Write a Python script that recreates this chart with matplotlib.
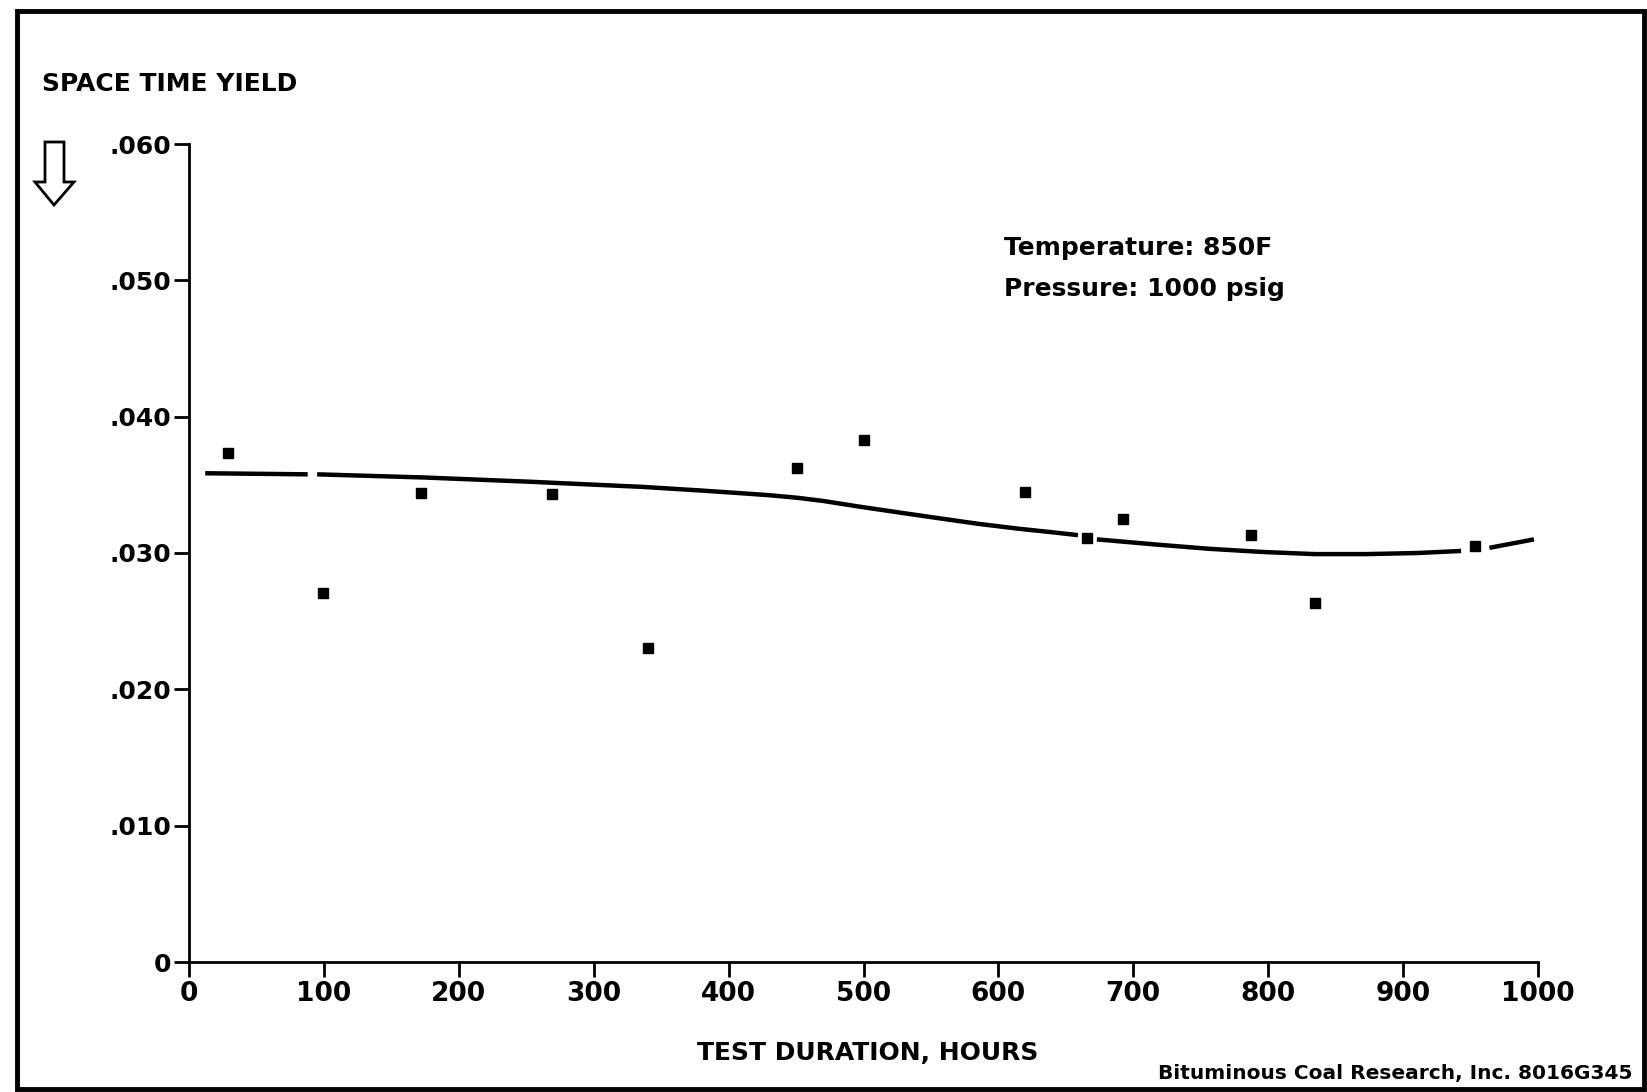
import matplotlib
matplotlib.use('Agg')
import matplotlib.pyplot as plt
from matplotlib.patches import Polygon, Rectangle

# Measured data points (test duration, hours ; space time yield)
hours = [29, 99, 172, 269, 340, 451, 500, 620, 666, 692, 787, 835, 953]
yield_ = [0.0373, 0.0271, 0.0344, 0.0343, 0.0230, 0.0362, 0.0383,
          0.0345, 0.0311, 0.0325, 0.0313, 0.0263, 0.0305]

# Smoothed curve; broken where it passes a point
curve_x = [
    [12, 88],
    [95, 174, 252, 336, 380, 407, 430, 451, 470, 497, 530, 558, 585, 615,
     640, 659],
    [673, 717, 756, 795, 834, 873, 911, 943],
    [964, 997],
]
curve_y = [
    [0.03585, 0.03577],
    [0.03577, 0.03554, 0.03523, 0.03485, 0.03458, 0.03440, 0.03424,
     0.03405, 0.03382, 0.03340, 0.03292, 0.03252, 0.03214, 0.03178,
     0.03152, 0.03131],
    [0.03100, 0.03062, 0.03031, 0.03008, 0.02992, 0.02992, 0.03000, 0.03015],
    [0.03038, 0.03100],
]

x_ticks = [0, 100, 200, 300, 400, 500, 600, 700, 800, 900, 1000]
y_ticks = [0, 0.010, 0.020, 0.030, 0.040, 0.050, 0.060]
y_labels = ['0', '.010', '.020', '.030', '.040', '.050', '.060']

W, H = 1647, 1092
plt.rcParams['font.family'] = ['DejaVu Sans']
plt.rcParams['font.weight'] = 'bold'

fig = plt.figure(figsize=(W / 100, H / 100), dpi=100)


def fx(px):
    return px / W


def fy(py):
    return 1 - py / H


ax = fig.add_axes([fx(189), fy(962), fx(1538) - fx(189), fy(144) - fy(962)])

for xs, ys in zip(curve_x, curve_y):
    ax.plot(xs, ys, color='black', linewidth=3.2, solid_capstyle='butt',
            solid_joinstyle='round')
ax.plot(hours, yield_, linestyle='none', marker='s', markersize=7.5,
        color='black')

ax.set_xlim(0, 1000)
ax.set_ylim(0, 0.060)
ax.set_xticks(x_ticks)
ax.set_xticklabels([str(t) for t in x_ticks])
ax.set_yticks(y_ticks)
ax.set_yticklabels(y_labels)
ax.tick_params(axis='both', direction='out', length=11, width=2, pad=3)
ax.tick_params(axis='x', labelsize=19)
ax.tick_params(axis='y', labelsize=18, pad=2)

for side in ('top', 'right'):
    ax.spines[side].set_visible(False)
for side in ('left', 'bottom'):
    ax.spines[side].set_linewidth(2)

fig.text(fx(1004), fy(248), 'Temperature: 850F', fontsize=18,
         fontweight='bold', va='center', ha='left')
fig.text(fx(1004), fy(289), 'Pressure: 1000 psig', fontsize=18,
         fontweight='bold', va='center', ha='left')

fig.text(fx(42), fy(84), 'SPACE TIME YIELD', fontsize=18,
         fontweight='bold', va='center', ha='left')
fig.text(fx(868), fy(1053), 'TEST DURATION, HOURS', fontsize=18,
         fontweight='bold', va='center', ha='center')
fig.text(fx(1633), fy(1074), 'Bituminous Coal Research, Inc. 8016G345',
         fontsize=14.5, fontweight='bold', va='center', ha='right')

# hollow down arrow next to the y axis title
arrow_px = [(45, 142), (64, 142), (64, 182), (74, 182), (54, 205),
            (35, 182), (45, 182)]
fig.patches.append(Polygon([(fx(a), fy(b)) for a, b in arrow_px],
                           closed=True, facecolor='white',
                           edgecolor='black', linewidth=2,
                           transform=fig.transFigure))

# page frame
fig.patches.append(Rectangle((fx(17), fy(1089)), fx(1644) - fx(17),
                             fy(11) - fy(1089), fill=False,
                             edgecolor='black', linewidth=3.5,
                             transform=fig.transFigure))

fig.savefig('out.png', dpi=100, facecolor='white')
